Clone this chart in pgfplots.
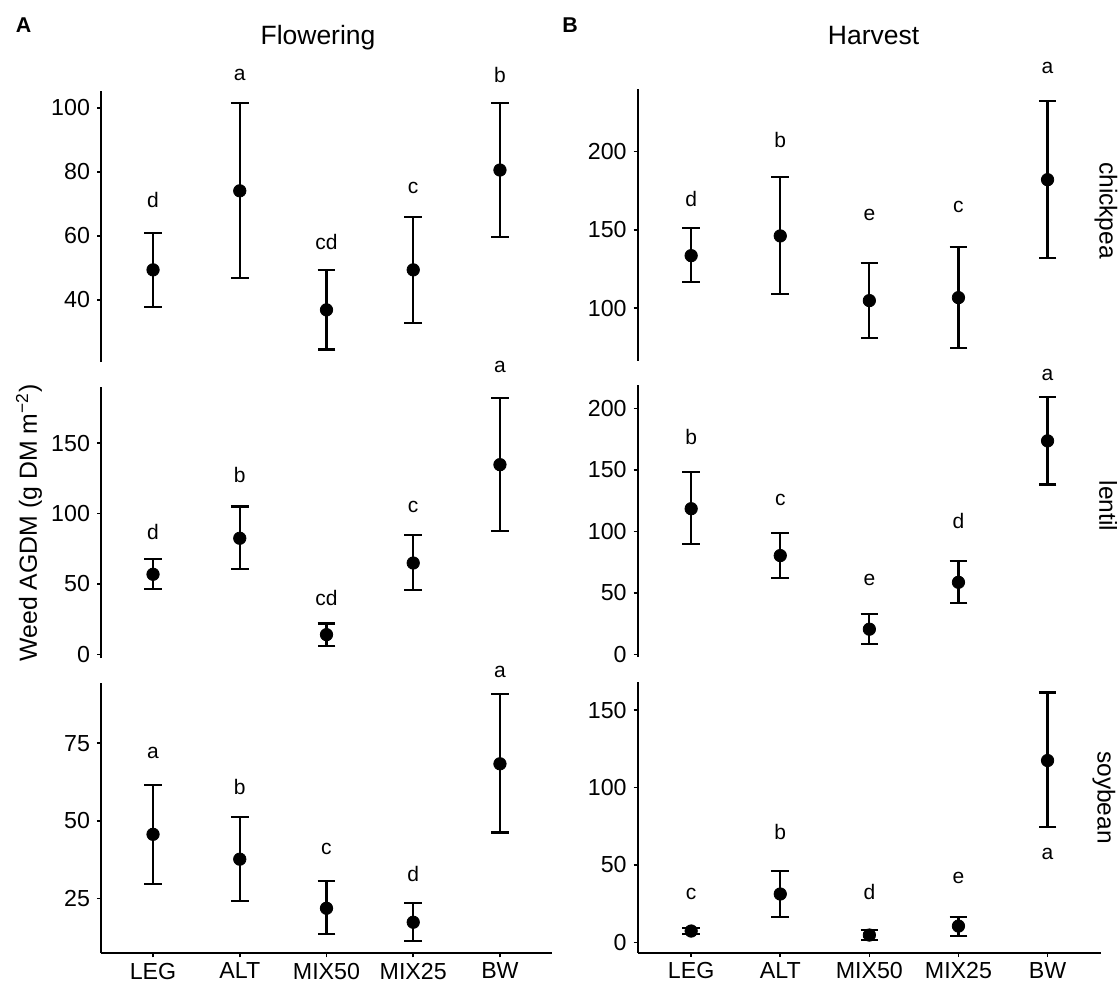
\documentclass[border=0pt]{standalone}
\usepackage{fontspec}
\setmainfont{Liberation Sans}
\usepackage{pgfplots}
\usepackage{pgfplotstable}
\pgfplotsset{compat=1.18}

% Flowering
\pgfplotstableread{
x y lo hi
1 49.4 37.7 61.0
2 74.1 46.8 101.5
3 36.9 24.5 49.3
4 49.4 32.8 65.9
5 80.6 59.7 101.5
}\FC
\pgfplotstableread{
x y l
1 71.3 d
2 110.3 a
3 58.0 cd
4 74.9 c
5 110.3 b
}\FCl
\pgfplotstableread{
x y lo hi
1 56.9 46.5 67.8
2 82.5 60.4 105.0
3 14.0 5.9 21.9
4 64.9 45.5 84.6
5 134.8 87.9 182.0
}\FL
\pgfplotstableread{
x y l
1 87.0 d
2 127.5 b
3 40.0 cd
4 104.5 c
5 204.0 a
}\FLl
\pgfplotstableread{
x y lo hi
1 45.7 29.6 61.7
2 37.7 24.3 51.2
3 21.9 13.5 30.6
4 17.4 11.3 23.6
5 68.4 46.3 90.9
}\FS
\pgfplotstableread{
x y l
1 71.8 a
2 60.9 b
3 40.9 c
4 32.9 d
5 98.0 a
}\FSl
% Harvest
\pgfplotstableread{
x y lo hi
1 133.6 116.6 151.0
2 146.2 108.9 183.8
3 104.9 81.2 128.9
4 106.8 74.5 139.1
5 182.1 132.3 232.1
}\HC
\pgfplotstableread{
x y l
1 169.7 d
2 207.5 b
3 159.4 e
4 164.5 c
5 253.2 a
}\HCl
\pgfplotstableread{
x y lo hi
1 118.5 89.7 148.1
2 80.4 62.2 98.9
3 20.6 8.4 32.8
4 58.7 41.6 75.8
5 173.6 138.1 209.2
}\HL
\pgfplotstableread{
x y l
1 176.4 b
2 125.6 c
3 60.6 e
4 108.9 d
5 227.0 a
}\HLl
\pgfplotstableread{
x y lo hi
1 7.3 5.6 9.0
2 31.2 16.6 46.0
3 4.7 1.5 8.0
4 10.5 4.1 16.6
5 117.4 74.3 161.3
}\HS
\pgfplotstableread{
x y l
1 31.0 c
2 71.5 b
3 32.7 d
4 41.3 e
5 56.9 a
}\HSl

\pgfplotsset{
 panel/.style={
   scale only axis, anchor=south west, clip=false,
   xmin=0.4, xmax=5.6,
   axis y line*=left,
   axis line style={line width=0.85pt, black},
   tick align=outside, major tick length=2pt,
   tick style={line width=0.8pt, black},
   /pgf/number format/assume math mode=true,
   tick label style={font=\fontsize{11.6}{12}\selectfont},
   xticklabel style={inner sep=0pt, yshift=-2.6pt},
   xtick={1,2,3,4,5}, xticklabels={LEG,ALT,MIX50,MIX25,BW},
 },
 topp/.style={panel, hide x axis},
 botp/.style={panel, axis x line*=bottom},
 pts/.style={black, mark=*, mark size=3.1pt, only marks,
   error bars/.cd, y dir=both, y explicit,
   error bar style={line width=1.1pt, black},
   error mark options={rotate=90, mark size=4.4pt, line width=1.1pt, black}},
 lets/.style={only marks, mark=none, nodes near coords, point meta=explicit symbolic,
   nodes near coords align=center,
   every node near coord/.append style={font=\fontsize{10.5}{11}\selectfont, inner sep=0pt, black}},
}
\newcommand{\pl}[2]{%
 \addplot[pts] table[x=x, y=y, y error plus expr=\thisrow{hi}-\thisrow{y}, y error minus expr=\thisrow{y}-\thisrow{lo}] {#1};
 \addplot[lets] table[x=x, y=y, meta=l] {#2};
}

\begin{document}
\begin{tikzpicture}
\path[use as bounding box] (0,0) rectangle (559pt,491pt);
% Left column
\begin{axis}[topp, at={(50.5pt,310pt)}, width=225.5pt, height=135.5pt,
  ymin=20.6, ymax=105.3, ytick={40,60,80,100}]
\pl{\FC}{\FCl}
\end{axis}
\begin{axis}[topp, at={(50.5pt,162pt)}, width=225.5pt, height=135.65pt,
  ymin=-2.6, ymax=190.2, ytick={0,50,100,150}]
\pl{\FL}{\FLl}
\end{axis}
\begin{axis}[botp, at={(50.5pt,14.35pt)}, width=225.5pt, height=135.3pt,
  ymin=7.4, ymax=94.5, ytick={25,50,75}]
\pl{\FS}{\FSl}
\end{axis}
% Right column
\begin{axis}[topp, at={(318.85pt,310.7pt)}, width=231.65pt, height=135.65pt,
  ymin=66.6, ymax=239.8, ytick={100,150,200}]
\pl{\HC}{\HCl}
\end{axis}
\begin{axis}[topp, at={(318.85pt,162.5pt)}, width=231.65pt, height=136pt,
  ymin=-2, ymax=219, ytick={0,50,100,150,200}]
\pl{\HL}{\HLl}
\end{axis}
\begin{axis}[botp, at={(318.85pt,14.65pt)}, width=231.65pt, height=135.5pt,
  ymin=-6.7, ymax=168.3, ytick={0,50,100,150}]
\pl{\HS}{\HSl}
\end{axis}
% Texts
\node[anchor=base, font=\bfseries\fontsize{10.7}{11}\selectfont] at (11.85pt,474.65pt) {A};
\node[anchor=base, font=\bfseries\fontsize{10.7}{11}\selectfont] at (285pt,474.65pt) {B};
\node[anchor=base, font=\fontsize{13.25}{14}\selectfont] at (159pt,468.75pt) {Flowering};
\node[anchor=base, font=\fontsize{13.25}{14}\selectfont] at (436.8pt,468.75pt) {Harvest};
\node[rotate=90, font=\fontsize{12.4}{13}\selectfont] at (14.5pt,229.5pt) {Weed AGDM (g DM m\textsuperscript{−2})};
\node[rotate=-90, font=\fontsize{12.25}{13}\selectfont] at (553pt,385.75pt) {chickpea};
\node[rotate=-90, font=\fontsize{12.25}{13}\selectfont] at (554pt,238pt) {lentil};
\node[rotate=-90, font=\fontsize{12.25}{13}\selectfont] at (552pt,92.25pt) {soybean};
\end{tikzpicture}
\end{document}
